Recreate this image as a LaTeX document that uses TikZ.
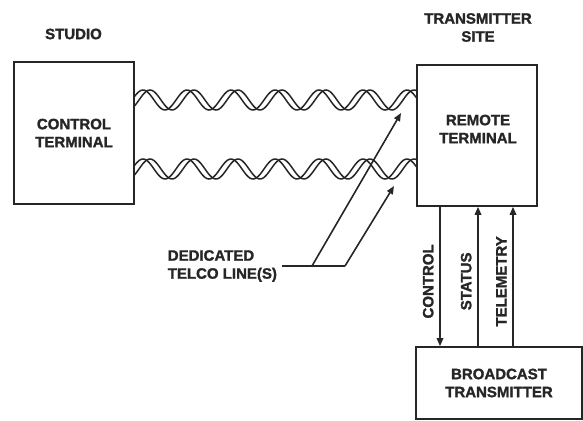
\documentclass[tikz,border=0pt]{standalone}
\usepackage{fontspec}
\setmainfont{Liberation Sans}[BoldFeatures={FakeBold=1.5}]
\usetikzlibrary{arrows.meta,positioning,calc}
\definecolor{ink}{HTML}{262626}

\begin{document}
\begin{tikzpicture}[
  x=1pt, y=-1pt, >={Triangle[length=8pt,width=6.5pt]},
  color=ink, line width=1.6pt,
  every node/.append style={text=ink, font=\fontsize{15}{18}\selectfont\bfseries},
  box/.style={draw=ink, line width=1.6pt, align=center},
  lbl/.style={align=center, inner sep=0pt},
  side/.style={rotate=90, anchor=south, inner sep=0pt, outer sep=6.5pt},
  wire/.style={draw=ink, line width=1.5pt},
]
\useasboundingbox (0,0) rectangle (583,420);
% studio end
\node[lbl] (studio) at (73.5,34) {STUDIO};
\node[box, minimum width=120pt, minimum height=142pt] (ctrl) at (74,133) {CONTROL\\TERMINAL};
% transmitter site end
\node[lbl] (site) at (478,27.5) {TRANSMITTER\\SITE};
\node[box, minimum width=120pt, minimum height=141pt] (remote) at (477,135.5) {};
\node[lbl] (remotetxt) at (478,129) {REMOTE\\TERMINAL};
\node[box, minimum width=166pt, minimum height=72pt] (bcast) at (499,383) {BROADCAST\\TRANSMITTER};
% twisted pairs
\foreach \yc in {100,169} {
  \draw[wire] plot[domain=134:417, samples=160, smooth] (\x, {\yc-10*sin((\x-132)/44*360)});
  \draw[wire] plot[domain=134:417, samples=160, smooth] (\x, {\yc-10*sin((\x-139)/44*360)});
}
% callout
\node[lbl, align=left, anchor=west] (telco) at (167,266) {DEDICATED\\TELCO LINE(S)};
\coordinate (fork1) at (312,266);
\coordinate (fork2) at (345,266);
\coordinate (hit1) at (401,113);
\coordinate (hit2) at (394,186);
\draw[shorten <=4pt] (telco.east) -- (fork2);
\draw[->] (fork1) -- (hit1);
\draw[->] (fork2) -- (hit2);
% site links
\foreach \dx/\txt/\dir [count=\i] in {-37/CONTROL/->, 1/STATUS/<-, 36/TELEMETRY/<-} {
  \coordinate (top\i) at ($(remote.south)+(\dx,0)$);
  \draw[\dir] (top\i) -- (top\i |- bcast.north) node[side, pos=0.535] {\txt};
}
\end{tikzpicture}
\end{document}
